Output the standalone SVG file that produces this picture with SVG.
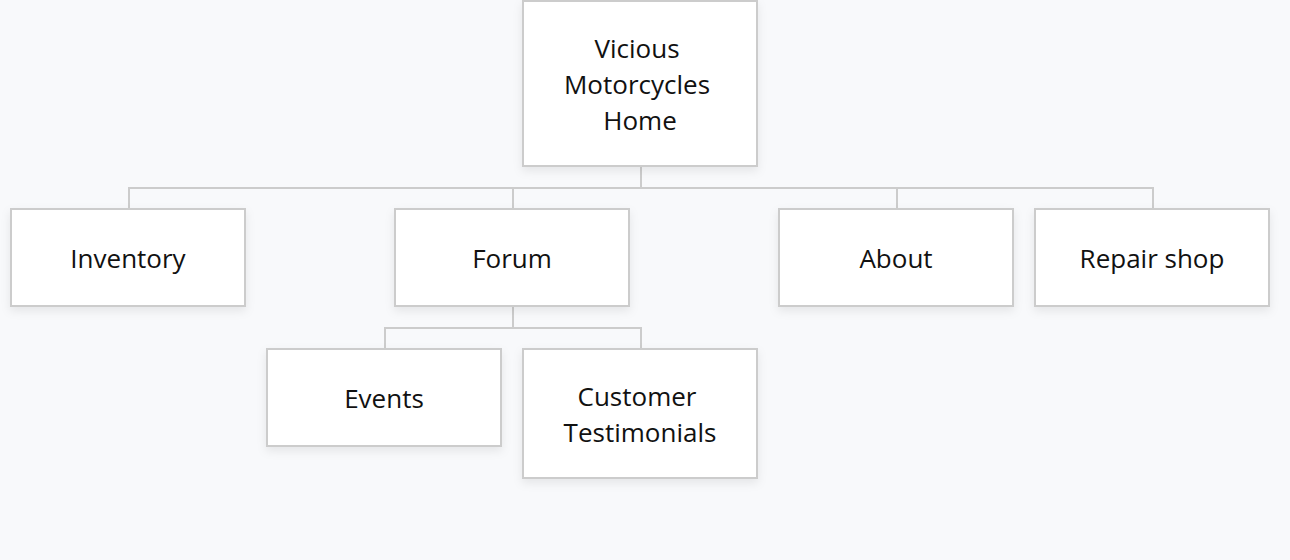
<svg xmlns="http://www.w3.org/2000/svg" width="1290" height="560" viewBox="0 0 1290 560">
<defs>
<filter id="sh" x="-20%" y="-20%" width="140%" height="150%">
<feDropShadow dx="0" dy="4" stdDeviation="5" flood-color="#000" flood-opacity="0.08"/>
</filter>
</defs>
<style>
.box{fill:#fff;stroke:#cccccc;stroke-width:2;filter:url(#sh)}
.lbl{font-family:"Open Sans","Noto Sans",sans-serif;font-size:26px;fill:#111;text-anchor:middle;dominant-baseline:central}
.con{fill:none;stroke:#cccccc;stroke-width:2}
</style>
<rect width="1290" height="560" fill="#f8f9fb"/>
<g id="connectors">
<path class="con" d="M641 166V188M129 209V188H1153V209M513 188V209M897 188V209"/>
<path class="con" d="M513 306V328M385 349V328H641V349"/>
</g>
<g id="home"><rect class="box" x="523" y="1" width="234" height="165"/><text class="lbl" x="637" y="48">Vicious</text><text class="lbl" x="637" y="84">Motorcycles</text><text class="lbl" x="640" y="120">Home</text></g>
<g id="inventory"><rect class="box" x="11" y="209" width="234" height="97"/><text class="lbl" x="128" y="258">Inventory</text></g>
<g id="forum"><rect class="box" x="395" y="209" width="234" height="97"/><text class="lbl" x="512" y="258">Forum</text></g>
<g id="about"><rect class="box" x="779" y="209" width="234" height="97"/><text class="lbl" x="896" y="258">About</text></g>
<g id="repair"><rect class="box" x="1035" y="209" width="234" height="97"/><text class="lbl" x="1152" y="258">Repair shop</text></g>
<g id="events"><rect class="box" x="267" y="349" width="234" height="97"/><text class="lbl" x="384" y="398">Events</text></g>
<g id="testimonials"><rect class="box" x="523" y="349" width="234" height="129"/><text class="lbl" x="637" y="396">Customer</text><text class="lbl" x="640" y="432">Testimonials</text></g>
</svg>
